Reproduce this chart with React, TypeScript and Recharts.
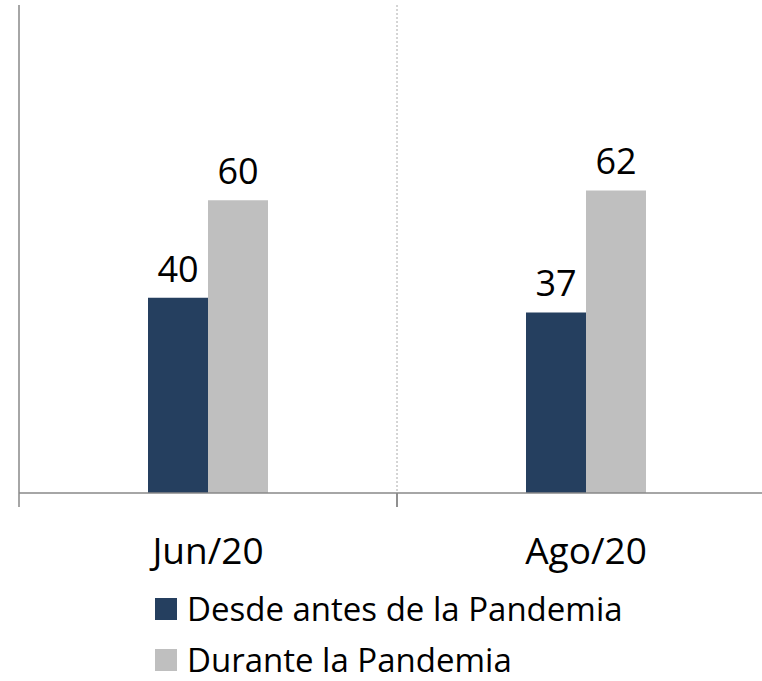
import { BarChart, Bar, XAxis, YAxis, CartesianGrid, LabelList } from 'recharts';

const categories = ['Jun/20', 'Ago/20'];
const desdeAntes = [40, 37];
const durante = [60, 62];
const seriesNames = ['Desde antes de la Pandemia', 'Durante la Pandemia'];
const yTicks = [0, 100];

const COLORS = ['#253F5F', '#BFBFBF'];
const AXIS = '#898989';
const FONT = "'Open Sans', sans-serif";

const CHART_W = 800;
const CHART_H = 681;
const M = { top: 5, right: 25, left: 18, bottom: 0 };
const PLOT_W = CHART_W - M.left - M.right - 1;
const BAND = PLOT_W / categories.length;

const data = categories.map((c, i) => ({
  name: c,
  antes: desdeAntes[i],
  durante: durante[i],
}));

function CategoryTick({ x, y, payload }: any) {
  return (
    <g>
      <line x1={x - BAND / 2} x2={x - BAND / 2} y1={y} y2={y + 14} stroke={AXIS} strokeWidth={1.5} />
      <line x1={x + BAND / 2} x2={x + BAND / 2} y1={y} y2={y + 14} stroke={AXIS} strokeWidth={1.5} />
      <text x={x} y={y + 71} textAnchor="middle" fontSize={37} fill="#000" fontFamily={FONT}>
        {payload.value}
      </text>
    </g>
  );
}

function LegendBox() {
  return (
    <div
      style={{
        position: 'absolute',
        left: 155,
        top: 592,
        fontFamily: FONT,
        fontSize: 33,
        color: '#000',
        lineHeight: '34px',
        whiteSpace: 'nowrap',
      }}
    >
      {seriesNames.map((n, i) => (
        <div key={n} style={{ display: 'flex', alignItems: 'center', marginBottom: i === 0 ? 17 : 0 }}>
          <span style={{ display: 'inline-block', width: 22, height: 22, background: COLORS[i], marginRight: 10 }} />
          <span>{n}</span>
        </div>
      ))}
    </div>
  );
}

export default function App() {
  return (
    <div style={{ position: 'absolute', left: 0, top: 0, width: 762, height: 681, overflow: 'hidden', background: '#fff' }}>
      <BarChart width={CHART_W} height={CHART_H} data={data} margin={M} barGap={0}>
        <CartesianGrid
          horizontal={false}
          stroke="#aaaaaa"
          strokeDasharray="2 2"
          verticalCoordinatesGenerator={({ offset }: any) => [offset.left + offset.width / 2]}
        />
        <XAxis
          dataKey="name"
          height={188}
          axisLine={{ stroke: AXIS, strokeWidth: 1.5 }}
          tickLine={false}
          tickSize={0}
          tickMargin={0}
          tick={<CategoryTick />}
          interval={0}
        />
        <YAxis
          domain={[yTicks[0], yTicks[1]]}
          ticks={yTicks}
          width={1}
          tick={false}
          tickLine={false}
          axisLine={{ stroke: AXIS, strokeWidth: 1.5 }}
        />
        <Bar dataKey="antes" name={seriesNames[0]} fill={COLORS[0]} barSize={60} isAnimationActive={false}>
          <LabelList dataKey="antes" position="top" offset={16} fontSize={36} fill="#000" fontFamily={FONT} />
        </Bar>
        <Bar dataKey="durante" name={seriesNames[1]} fill={COLORS[1]} barSize={60} isAnimationActive={false}>
          <LabelList dataKey="durante" position="top" offset={16} fontSize={36} fill="#000" fontFamily={FONT} />
        </Bar>
      </BarChart>
      <LegendBox />
    </div>
  );
}
